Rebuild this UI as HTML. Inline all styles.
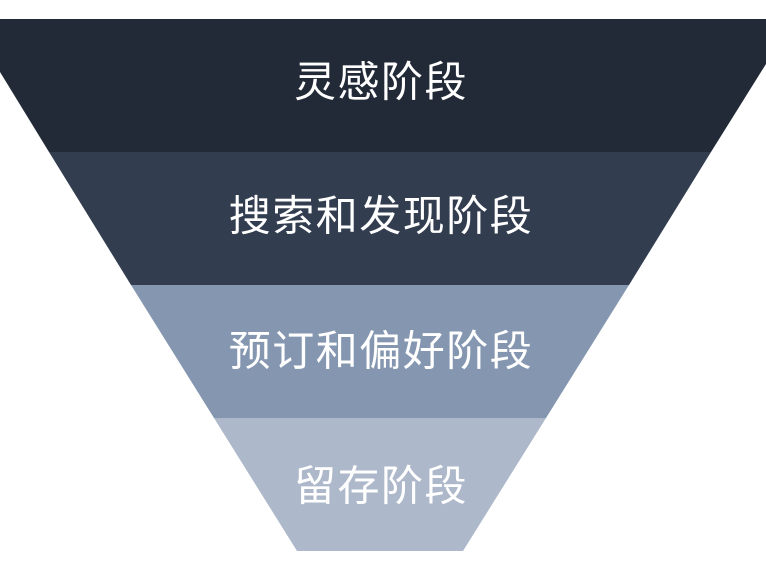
<!DOCTYPE html>
<html><head><meta charset="utf-8"><style>
html,body{margin:0;padding:0;background:#fff;width:766px;height:573px;overflow:hidden}
svg text{font-family:"Liberation Sans","Noto Sans CJK SC",sans-serif;font-size:42px;fill:#fff;letter-spacing:1.5px}
</style></head><body>
<svg width="766" height="573" viewBox="0 0 766 573" xmlns="http://www.w3.org/2000/svg">
<polygon points="0,19 766,19 766,64 711,152 49,152 0,72" fill="#232a37"/>
<polygon points="49,152 711,152 629,285 131,285" fill="#333d50"/>
<polygon points="131,285 629,285 546,418 214,418" fill="#8597b0"/>
<polygon points="214,418 546,418 463,551 297,551" fill="#adb8ca"/>
<text x="381" y="82" text-anchor="middle" dominant-baseline="central">灵感阶段</text>
<text x="381" y="216" text-anchor="middle" dominant-baseline="central">搜索和发现阶段</text>
<text x="381" y="351" text-anchor="middle" dominant-baseline="central">预订和偏好阶段</text>
<text x="381" y="486" text-anchor="middle" dominant-baseline="central">留存阶段</text>
</svg>
</body></html>
